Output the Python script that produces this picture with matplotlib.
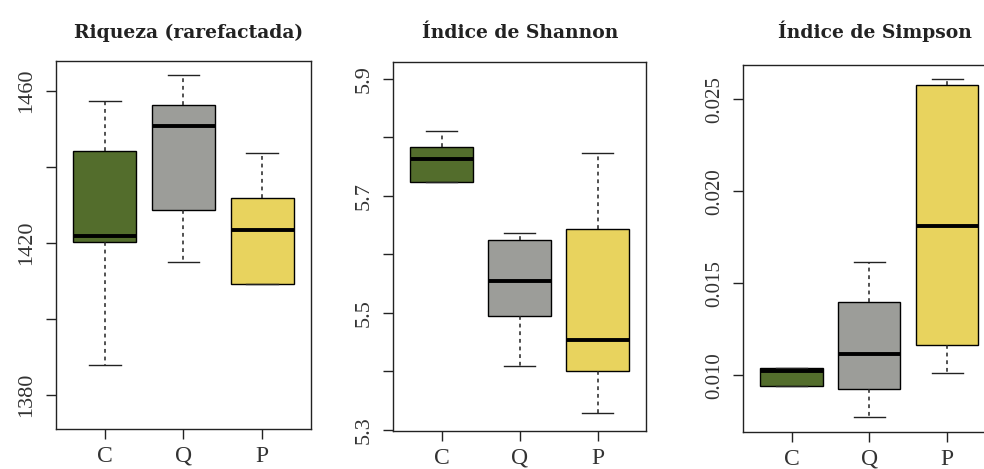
import matplotlib.pyplot as plt
import numpy as np

grupos = ['C', 'Q', 'P']
cores = ['#536d2c', '#9c9d99', '#e8d35e']

titulos = ['Riqueza (rarefactada)', 'Índice de Shannon', 'Índice de Simpson']

# riqueza rarefactada
riq_whislo = [1387.9, 1415.1, 1409.2]
riq_q1 = [1420.2, 1428.7, 1409.2]
riq_med = [1421.9, 1450.8, 1423.4]
riq_q3 = [1444.2, 1456.3, 1431.9]
riq_whishi = [1457.4, 1464.2, 1443.6]

# shannon
sha_whislo = [5.723, 5.410, 5.329]
sha_q1 = [5.723, 5.494, 5.401]
sha_med = [5.763, 5.555, 5.454]
sha_q3 = [5.784, 5.625, 5.643]
sha_whishi = [5.811, 5.637, 5.773]

# simpson
sim_whislo = [0.00943, 0.00773, 0.01012]
sim_q1 = [0.00943, 0.00924, 0.01165]
sim_med = [0.01023, 0.01117, 0.01811]
sim_q3 = [0.01038, 0.01397, 0.02578]
sim_whishi = [0.01038, 0.01614, 0.02612]

dados = [
    (riq_whislo, riq_q1, riq_med, riq_q3, riq_whishi),
    (sha_whislo, sha_q1, sha_med, sha_q3, sha_whishi),
    (sim_whislo, sim_q1, sim_med, sim_q3, sim_whishi),
]

limites = [(1371.1, 1467.9), (5.298, 5.929), (0.00692, 0.02686)]
ticks = [np.arange(1380, 1461, 20), np.arange(5.3, 5.91, 0.1), [0.010, 0.015, 0.020, 0.025]]
rotulos = [['1380', '', '1420', '', '1460'],
           ['5.3', '', '5.5', '', '5.7', '', '5.9'],
           ['0.010', '0.015', '0.020', '0.025']]
tam_y = [16, 16, 15]

posicoes = [
    [0.0569, 0.0853, 0.2591, 0.7846],
    [0.3997, 0.0810, 0.2568, 0.7868],
    [0.7554, 0.0789, 0.2561, 0.7825],
]
centro_titulo = [188.5 / 984, 520.5 / 984, 875 / 984]

plt.rcParams['font.family'] = 'Liberation Serif'

fig = plt.figure(figsize=(9.84, 4.69), dpi=100)

for i in range(3):
    ax = fig.add_axes(posicoes[i])
    wlo, q1, med, q3, whi = dados[i]
    stats = []
    for j in range(3):
        stats.append({'whislo': wlo[j], 'q1': q1[j], 'med': med[j],
                      'q3': q3[j], 'whishi': whi[j], 'fliers': []})
    bp = ax.bxp(stats, positions=[1, 2, 3], widths=0.8, patch_artist=True,
                showfliers=False, capwidths=0.4,
                boxprops=dict(linewidth=1.0, edgecolor='black'),
                medianprops=dict(color='black', linewidth=2.8, solid_capstyle='butt'),
                whiskerprops=dict(color='#222222', linewidth=1.1, linestyle=(0, (2.5, 2.5))),
                capprops=dict(color='#222222', linewidth=1.0))
    for patch, cor in zip(bp['boxes'], cores):
        patch.set_facecolor(cor)
    ax.set_xlim(0.38, 3.62)
    ax.set_ylim(*limites[i])
    ax.set_xticks([1, 2, 3])
    ax.set_xticklabels(grupos, fontsize=17)
    ax.set_yticks(ticks[i])
    ax.set_yticklabels(rotulos[i], rotation=90, va='center', fontsize=tam_y[i])
    ax.tick_params(direction='out', length=7, width=1, colors='#222222', labelcolor='#333333')
    ax.tick_params(axis='x', pad=5)
    ax.tick_params(axis='y', pad=7)
    for s in ax.spines.values():
        s.set_linewidth(1.0)
        s.set_color('#222222')
    fig.text(centro_titulo[i], 1 - 38 / 469, titulos[i], fontsize=13.5, fontweight='bold',
             family='DejaVu Serif', ha='center', va='baseline', color='#222222')

fig.savefig('out.png', dpi=100)
